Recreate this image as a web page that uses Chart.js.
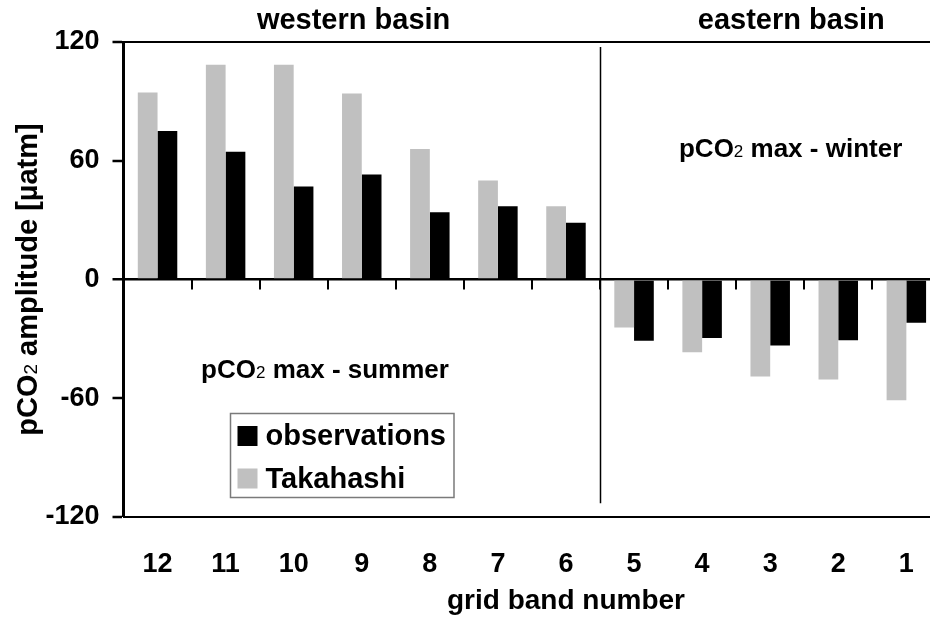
<!DOCTYPE html>
<html><head><meta charset="utf-8">
<script src="https://cdn.jsdelivr.net/npm/chart.js@4/dist/chart.umd.min.js"></script>
<style>
html,body{margin:0;padding:0;background:#fff;overflow:hidden;width:930px;height:621px}
#wrap{width:945px;height:621px;}
</style></head><body><div id="wrap"><canvas id="c" width="945" height="621"></canvas></div>
<script>
const categories = ['12','11','10','9','8','7','6','5','4','3','2','1'];
const takahashi = [94.5, 108.5, 108.5, 94, 66, 50, 37, -24.3, -36.7, -49, -50.5, -61];
const observations = [75, 64.5, 47, 53, 34, 37, 28.7, -31, -29.5, -33.3, -30.7, -21.8];
const yTicks = [-120, -60, 0, 60, 120];
const regionLabels = ['western basin', 'eastern basin'];
const seasonLabels = [' max - summer', ' max - winter'];
const xTitle = 'grid band number';
const yTitleRest = ' amplitude [µatm]';

const FONT = "'Liberation Sans', Arial, Helvetica, sans-serif";

function richWidth(ctx, parts){let w=0;for(const p of parts){ctx.font=p.font;w+=ctx.measureText(p.t).width;}return w;}
function drawRich(ctx, parts, x, y, align){
  const w = richWidth(ctx, parts);
  let cx = align === 'center' ? x - w/2 : x;
  ctx.textAlign='left'; ctx.textBaseline='alphabetic'; ctx.fillStyle='#000';
  for(const p of parts){ctx.font=p.font;ctx.fillText(p.t,cx,y+(p.dy||0));cx+=ctx.measureText(p.t).width;}
}
function pco2(rest,size){
  return [{t:'pCO',font:`bold ${size}px ${FONT}`},{t:'2',font:`${Math.round(size*0.66)}px ${FONT}`,dy:0},{t:rest,font:`bold ${size}px ${FONT}`}];
}

const decor = {
  id:'decor',
  afterDatasetsDraw(chart){
    const ctx=chart.ctx, xs=chart.scales.x, ys=chart.scales.y;
    const y0=ys.getPixelForValue(0);
    ctx.save();
    ctx.strokeStyle='#000';
    ctx.lineWidth=2;
    for(let i=0;i<categories.length-1;i++){
      const x=Math.round(xs.getPixelForValue(i+0.5));
      ctx.beginPath();ctx.moveTo(x,y0);ctx.lineTo(x,y0+10);ctx.stroke();
    }
    // separator between basins
    const xsep=Math.round(xs.getPixelForValue(6.5))+0.5;
    ctx.lineWidth=1.5;
    ctx.beginPath();ctx.moveTo(xsep,ys.getPixelForValue(117.5));ctx.lineTo(xsep,ys.getPixelForValue(-113));ctx.stroke();
    ctx.restore();
  },
  afterDraw(chart){
    const ctx=chart.ctx, xs=chart.scales.x, ys=chart.scales.y, ca=chart.chartArea;
    ctx.save();
    // region labels
    drawRich(ctx,[{t:regionLabels[0],font:`bold 29px ${FONT}`}],xs.getPixelForValue(2.88),ca.top-13.5,'center');
    drawRich(ctx,[{t:regionLabels[1],font:`bold 29px ${FONT}`}],xs.getPixelForValue(9.31),ca.top-13.5,'center');
    // season annotations
    drawRich(ctx,pco2(seasonLabels[1],26),xs.getPixelForValue(9.3),ys.getPixelForValue(62.1),'center');
    drawRich(ctx,pco2(seasonLabels[0],26),xs.getPixelForValue(2.46),ys.getPixelForValue(-49.6),'center');
    // x title
    drawRich(ctx,[{t:xTitle,font:`bold 28px ${FONT}`}],xs.getPixelForValue(6.0),609,'center');
    // y title
    ctx.save();
    ctx.translate(37,(ca.top+ca.bottom)/2);
    ctx.rotate(-Math.PI/2);
    drawRich(ctx,pco2(yTitleRest,29),0,0,'center');
    ctx.restore();
    // legend
    const ds=chart.data.datasets.slice().reverse();
    const lf=`bold 29px ${FONT}`;
    ctx.font=lf;
    let tw=0; for(const d of ds){tw=Math.max(tw,ctx.measureText(d.label).width);}
    const lx=Math.round(xs.getPixelForValue(1.06))+0.5, ly=Math.round(ys.getPixelForValue(-67.7))+0.5;
    const lw=7+20+8+tw+8, lh=84;
    ctx.strokeStyle='#7a7a7a';ctx.lineWidth=1.5;ctx.strokeRect(lx,ly,lw,lh);
    ds.forEach((d,i)=>{
      const cy=ly+22.5+i*42.5;
      ctx.fillStyle=d.backgroundColor;ctx.fillRect(lx+7,cy-10,20,20);
      ctx.fillStyle='#000';ctx.font=lf;ctx.textAlign='left';ctx.textBaseline='middle';
      ctx.fillText(d.label,lx+35,cy+1);
    });
    ctx.restore();
  }
};

new Chart(document.getElementById('c'),{
  type:'bar',
  data:{labels:categories,datasets:[
    {label:'Takahashi',data:takahashi,backgroundColor:'#c0c0c0',borderWidth:0},
    {label:'observations',data:observations,backgroundColor:'#000000',borderWidth:0}
  ]},
  options:{
    responsive:false,animation:false,
    categoryPercentage:0.58,barPercentage:1.0,
    layout:{padding:{top:42,right:3.5,left:0,bottom:0}},
    plugins:{legend:{display:false},tooltip:{enabled:false}},
    scales:{
      x:{type:'category',
        grid:{display:false,drawTicks:false},
        border:{display:true,color:'#000',width:2},
        ticks:{color:'#000',font:{family:FONT,size:27,weight:'bold'},padding:31,maxRotation:0,autoSkip:false},
        afterFit(s){s.height=104;}
      },
      y:{min:-120,max:120,z:1,
        afterBuildTicks(s){s.ticks=yTicks.map(v=>({value:v}));},
        grid:{
          color:c=>(c.tick&&(c.tick.value===0||c.tick.value===120))?'#000':'rgba(0,0,0,0)',
          lineWidth:c=>(c.tick&&c.tick.value===0)?2.5:((c.tick&&c.tick.value===120)?2:0),
          drawTicks:true,tickLength:11,tickColor:'#000',tickWidth:2.5
        },
        border:{display:true,color:'#000',width:3},
        ticks:{color:'#000',font:{family:FONT,size:27,weight:'bold'},padding:13},
        afterFit(s){s.width=123.5;}
      }
    }
  },
  plugins:[decor]
});
</script></body></html>
